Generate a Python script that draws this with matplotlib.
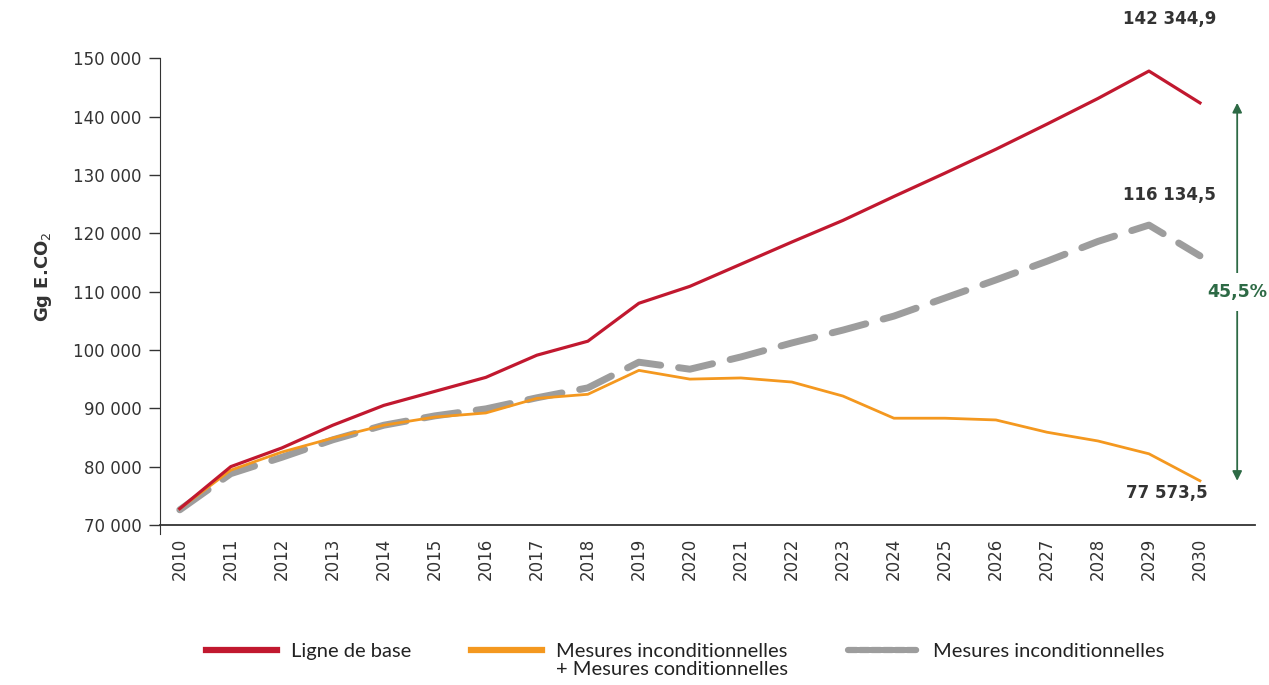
import matplotlib
matplotlib.use("Agg")
import matplotlib.pyplot as plt
from matplotlib.ticker import FuncFormatter

plt.rcParams['font.family'] = ['DejaVu Sans']

years = list(range(2010, 2031))

# Gg E.CO2 par scénario
ligne_base = [72800, 80000, 83200, 87100, 90500, 92900, 95300, 99100, 101500, 108000,
              110900, 114700, 118500, 122200, 126300, 130300, 134400, 138700, 143100,
              147800, 142344.9]
mesures_incond_cond = [72800, 79400, 82500, 84900, 87100, 88500, 89200, 91700, 92400, 96500,
                       95000, 95200, 94500, 92100, 88300, 88300, 88000, 85900, 84400,
                       82200, 77573.5]
mesures_incond = [72600, 78800, 81600, 84600, 87100, 88700, 89900, 91800, 93500, 97900,
                  96700, 98800, 101200, 103400, 105800, 108900, 112000, 115200, 118600,
                  121400, 116134.5]

red = '#c1182f'
orange = '#f4981f'
grey = '#9d9d9d'
green = '#2d6a45'
txt = '#333333'

fig = plt.figure(figsize=(12.69, 6.85), dpi=100)
ax = fig.add_axes([0.126, 0.2336, 0.863, 0.724])

ax.plot(years, mesures_incond, color=grey, lw=5, ls=(0, (5, 2.6)),
        dash_capstyle='round', label='Mesures inconditionnelles', zorder=2)
ax.plot(years, mesures_incond_cond, color=orange, lw=2.0,
        label='Mesures inconditionnelles\n+ Mesures conditionnelles', zorder=3)
ax.plot(years, ligne_base, color=red, lw=2.3, label='Ligne de base', zorder=4)

ax.set_xlim(2009.61, 2031.08)
ax.set_ylim(70000, 155000)
ax.set_yticks(range(70000, 150001, 10000))
ax.yaxis.set_major_formatter(FuncFormatter(lambda v, p: f"{int(v):,}".replace(',', ' ')))
ax.set_xticks(years)
ax.set_xticklabels([str(y) for y in years], rotation=90)
ax.tick_params(axis='y', length=8, width=1, color=txt, labelsize=12, labelcolor=txt, pad=5)
ax.tick_params(axis='x', length=0, labelsize=12, labelcolor=txt, pad=9)
for s in ['top', 'right']:
    ax.spines[s].set_visible(False)
ax.spines['left'].set_color(txt)
ax.spines['bottom'].set_color(txt)
ax.spines['bottom'].set_linewidth(1.3)
ax.spines['left'].set_bounds(68500, 150000)
ax.set_ylabel('Gg E.CO$_2$', fontsize=13, fontweight='bold', color=txt, labelpad=14)

# valeurs en 2030
fmt = lambda v: f"{v:,.1f}".replace(',', ' ').replace('.', ',')
lab = dict(ha='center', va='center', fontsize=12, fontweight='bold', color=txt,
           annotation_clip=False)
ax.annotate(fmt(ligne_base[-1]), (years[-1], ligne_base[-1]), xytext=(2029.4, 156800), **lab)
ax.annotate(fmt(mesures_incond[-1]), (years[-1], mesures_incond[-1]), xytext=(2029.4, 126500), **lab)
ax.annotate(fmt(mesures_incond_cond[-1]), (years[-1], mesures_incond_cond[-1]),
            xytext=(2029.35, 75400), **lab)

# écart entre ligne de base et mesures conditionnelles
xa = 2030.73
top, bot = ligne_base[-1], mesures_incond_cond[-1]
ax.annotate('', xy=(xa, top), xytext=(xa, bot),
            arrowprops=dict(arrowstyle='<|-|>', color=green, lw=1.3,
                            mutation_scale=14, shrinkA=0, shrinkB=0), annotation_clip=False)
ecart = (top - bot) / top * 100
ax.text(xa, (top + bot) / 2, f"{ecart:.1f}%".replace('.', ','), ha='center', va='center',
        fontsize=12.5, fontweight='bold', color=green,
        bbox=dict(facecolor='white', edgecolor='none', pad=7), clip_on=False, zorder=5)

handles, labels = ax.get_legend_handles_labels()
order = [2, 1, 0]
leg = fig.legend([handles[i] for i in order], [labels[i] for i in order],
                 loc='upper left', bbox_to_anchor=(0.153, 0.079), ncol=3,
                 frameon=False, prop={'family': ['Lato', 'DejaVu Sans'], 'size': 14.5},
                 handlelength=3.5, columnspacing=3.0, handletextpad=0.7,
                 borderaxespad=0.2, labelspacing=0.2)
for ln in leg.get_lines():
    ln.set_linewidth(4.5)
leg.get_lines()[2].set_dashes((1.4, 0.5))
for t in leg.get_texts():
    t.set_color('#222222')
    t.set_linespacing(1.05)
# poignées alignées sur la première ligne du texte
leg._legend_handle_box.align = 'top'
for col in leg._legend_handle_box.get_children():
    for item in col.get_children():
        item.align = 'top'

fig.savefig('out.png', dpi=100)
